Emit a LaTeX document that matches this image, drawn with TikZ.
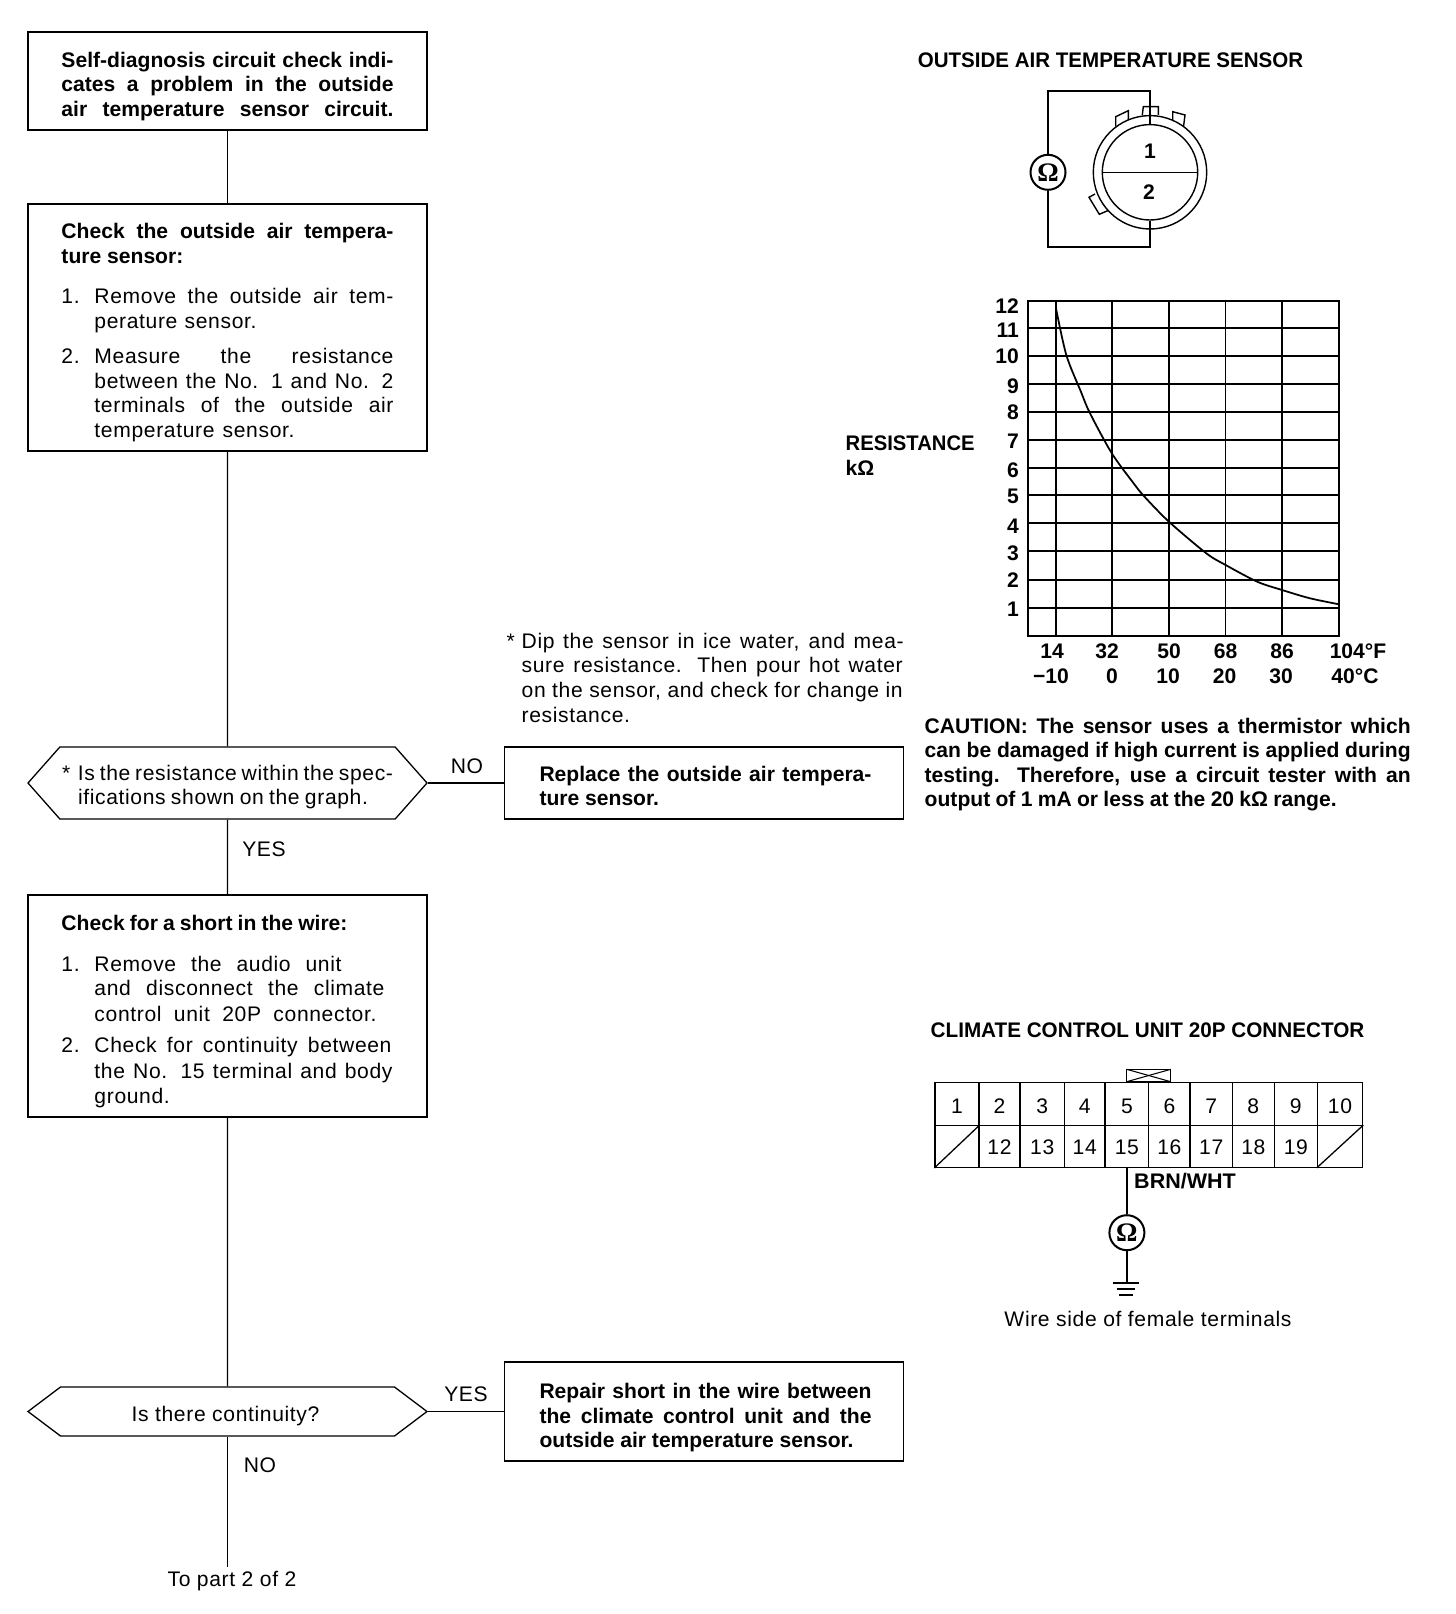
\documentclass[tikz,border=0pt]{standalone}
\usepackage{fontspec}
\setmainfont{Liberation Sans}[LetterSpace=3,BoldFeatures={LetterSpace=0}]
\newfontfamily\ohmfont{Liberation Serif}
\usepackage{tikz}
\usetikzlibrary{shapes.symbols}

\newcommand{\jl}[2][3.32]{\makebox[#1cm][s]{#2}}
\newcommand{\itm}[3]{\makebox[0.33cm][l]{#1}\jl[#2]{#3}}
\newcommand{\cnt}[2]{\hspace*{0.33cm}\jl[#1]{#2}}
\newcommand{\up}[1]{\rule{0pt}{#1cm}}

\tikzset{
    txt/.style={font=\fontsize{6}{6.97}\selectfont, inner sep=0, align=left},
    bold/.style={txt, font=\fontsize{6}{6.97}\selectfont\bfseries},
    flowbox/.style={txt, draw, line width=0.37pt, minimum width=3.99cm},
    boldbox/.style={flowbox, font=\fontsize{6}{6.97}\selectfont\bfseries},
    query/.style={txt, draw, line width=0.37pt, shape=signal, signal to=west and east,
        minimum width=3.99cm},
    flow/.style={line width=0.37pt},
    wire/.style={line width=0.57pt},
    meter/.style={draw, circle, line width=0.57pt, inner sep=0, minimum size=0.35cm,
        font=\fontsize{7.6}{7.6}\ohmfont\bfseries},
    cell/.style={txt, draw, line width=0.35pt, align=center}
}

\begin{document}
\begin{tikzpicture}[y=-1cm]
    \useasboundingbox (0, 0) rectangle (14.56, 16.14);

    % flow chart
    \node[boldbox, minimum height=0.98cm] at (2.275, 0.81) (S) {
        \up{0.255}\jl{Self-diagnosis circuit check indi-}\\
        \jl{cates a problem in the outside}\\
        \jl{air temperature sensor circuit.}};
    \node[flowbox, minimum height=2.47cm] at (2.275, 3.275) (C) {
        \up{0.255}\jl{\textbf{Check the outside air tempera-}}\\
        \textbf{ture sensor:}\\[0.16cm]
        \itm{1.}{2.99}{Remove the outside air tem-}\\
        \cnt{1.62}{perature sensor.}\\[0.11cm]
        \itm{2.}{2.99}{Measure the resistance}\\
        \cnt{2.99}{between the No. 1 and No. 2}\\
        \cnt{2.99}{terminals of the outside air}\\
        \cnt{2.0}{temperature sensor.}};
    \node[query, signal pointer angle=97, minimum height=0.72cm] at (2.275, 7.83) (Q) {
        \up{0.235}\makebox[0.16cm][l]{*}\jl[3.15]{Is the resistance within the spec-}\\
        \hspace*{0.16cm}\jl[2.9]{ifications shown on the graph.}};
    \node[boldbox, minimum height=0.72cm] at (7.04, 7.83) (R) {
        \up{0.215}\hspace*{0.03cm}\jl{Replace the outside air tempera-}\\
        \hspace*{0.03cm}\makebox[3.32cm][l]{ture sensor.}};
    \node[flowbox, minimum height=2.22cm] at (2.275, 10.06) (W) {
        \up{0.265}\makebox[3.32cm][l]{\jl[2.86]{\textbf{Check for a short in the wire:}}}\\[0.16cm]
        \itm{1.}{2.47}{Remove the audio unit}\\
        \cnt{2.9}{and disconnect the climate}\\[0.01cm]
        \cnt{2.82}{control unit 20P connector.}\\[0.07cm]
        \itm{2.}{2.97}{Check for continuity between}\\[0.01cm]
        \cnt{2.98}{the No. 15 terminal and body}\\[0.01cm]
        \cnt{0.8}{ground.}};
    \node[query, signal pointer angle=74, minimum height=0.49cm] at (2.275, 14.115) (T) {
        \up{0.235}Is there continuity?\hspace*{0.04cm}};
    \node[boldbox, minimum height=0.99cm] at (7.04, 14.115) (P) {
        \up{0.275}\hspace*{0.03cm}\jl{Repair short in the wire between}\\
        \hspace*{0.03cm}\jl{the climate control unit and the}\\
        \hspace*{0.03cm}\makebox[3.32cm][l]{outside air temperature sensor.}};
    \coordinate (End) at (2.275, 15.67);
    \node[txt] at (2.32, 15.81) (Part) {To part 2 of 2};

    \draw[flow] (S) -- (C);
    \draw[flow] (C) -- (Q);
    \draw[flow] (Q.east) -- (R);
    \draw[flow] (Q) -- (W);
    \draw[flow] (W) -- (T);
    \draw[flow] (T.east) -- (P);
    \draw[flow] (T.south) -- (End);

    \node[txt] at (4.67, 7.66) (QNo) {NO};
    \node[txt] at (2.64, 8.49) (QYes) {YES};
    \node[txt] at (4.66, 13.94) (TYes) {YES};
    \node[txt] at (2.6, 14.65) (TNo) {NO};

    \node[txt, anchor=west] at (5.06, 6.78) (Note) {
        \makebox[0.15cm][l]{*}\jl[3.82]{Dip the sensor in ice water, and mea-}\\
        \hspace*{0.15cm}\jl[3.81]{sure resistance. Then pour hot water}\\
        \hspace*{0.15cm}\jl[3.81]{on the sensor, and check for change in}\\[0.01cm]
        \hspace*{0.15cm}\jl[1.05]{resistance.}};

    % sensor
    \node[bold] at (11.105, 0.607) (SensorTitle) {\scalebox{0.974}[1]{OUTSIDE AIR TEMPERATURE SENSOR}};
    \draw[line width=0.4pt] (11.157, 1.267) -- (11.157, 1.167) -- (11.283, 1.107) -- (11.283, 1.2);
    \draw[line width=0.4pt] (11.423, 1.15) -- (11.433, 1.067) -- (11.583, 1.067) -- (11.583, 1.15);
    \draw[line width=0.4pt] (11.727, 1.2) -- (11.727, 1.117) -- (11.85, 1.15) -- (11.833, 1.283);
    \draw[line width=0.4pt] (10.95, 1.94) -- (10.89, 1.973) -- (10.993, 2.143) -- (11.093, 2.1);
    \node[draw, circle, line width=0.4pt, fill=white, inner sep=0, minimum size=1.134cm] at (11.5, 1.723) (RO) {};
    \node[draw, circle, line width=0.4pt, inner sep=0, minimum size=0.954cm] at (11.5, 1.723) (RI) {};
    \draw[flow] (RI.west) -- (RI.east);
    \node[bold] at (11.5, 1.517) (N1) {1};
    \node[bold] at (11.49, 1.917) (N2) {2};
    \node[meter] at (10.48, 1.723) (OA) {Ω};
    \draw[wire] (OA.north) -- (10.48, 0.91) -| (RI.north);
    \draw[wire] (OA.south) -- (10.48, 2.467) -| (RI.south);

    % graph
    \draw[line width=0.33pt] (10.28, 3.007) rectangle (13.39, 6.36);
    \foreach \x in {10.56, 11.118, 11.689, 12.256, 12.82} {
        \draw[line width=0.48pt] (\x, 3.007) -- (\x, 6.36);
    }
    \foreach \y/\ly/\val in {3.007/3.057/12, 3.283/3.307/11, 3.56/3.56/10, 3.84/3.86/9, 4.12/4.12/8,
            4.4/4.417/7, 4.677/4.7/6, 4.953/4.96/5, 5.233/5.267/4, 5.51/5.533/3, 5.8/5.8/2, 6.077/6.09/1} {
        \draw[line width=0.48pt] (10.28, \y) -- (13.39, \y);
        \node[bold, anchor=east] at (10.195, \ly) (Y\val) {\val};
    }
    \draw[line width=0.5pt] plot[smooth, tension=0.5] coordinates {
        (10.56, 3.083) (10.663, 3.55) (10.809, 3.917) (10.9, 4.133) (11.118, 4.533)
        (11.336, 4.833) (11.445, 4.967) (11.689, 5.217) (12.063, 5.533) (12.256, 5.65)
        (12.572, 5.817) (12.82, 5.9) (13.1, 5.983) (13.39, 6.043)};
    \foreach \x/\deg in {10.52/14, 11.07/32, 11.69/50, 12.255/68, 12.82/86, 13.58/104°F} {
        \node[bold] at (\x, 6.51) {\deg};
    }
    \foreach \x/\deg in {10.51/−10, 11.12/0, 11.68/10, 12.245/20, 12.81/30, 13.55/40°C} {
        \node[bold] at (\x, 6.76) {\deg};
    }
    \node[bold, anchor=west] at (8.45, 4.43) (ResLabel) {\scalebox{0.96}[1]{RESISTANCE}};
    \node[bold, anchor=west] at (8.45, 4.68) (ResUnit) {kΩ};

    \node[bold, anchor=west] at (9.24, 7.645) (Caution) {
        \jl[4.86]{CAUTION: The sensor uses a thermistor which}\\
        \jl[4.86]{can be damaged if high current is applied during}\\
        \jl[4.86]{testing. Therefore, use a circuit tester with an}\\
        \jl[4.12]{output of 1 mA or less at the 20 kΩ range.}};

    % connector
    \node[bold] at (11.475, 10.3) (ConnTitle) {\scalebox{0.981}[1]{CLIMATE CONTROL UNIT 20P CONNECTOR}};
    \draw[line width=0.4pt] (11.267, 10.693) rectangle (11.707, 10.817);
    \draw[line width=0.3pt] (11.267, 10.693) -- (11.707, 10.817);
    \draw[line width=0.3pt] (11.267, 10.817) -- (11.707, 10.693);
    \foreach \n/\xc/\cw in {1/9.57/0.44, 2/9.995/0.41, 3/10.422/0.443, 4/10.847/0.407, 5/11.269/0.437,
            6/11.694/0.413, 7/12.112/0.423, 8/12.533/0.42, 9/12.958/0.43, 10/13.4/0.454} {
        \node[cell, minimum width=\cw cm, minimum height=0.43cm] at (\xc, 11.042) (c\n) {\up{0.19}\n};
    }
    \foreach \n/\xc/\cw in {11/9.57/0.44, 12/9.995/0.41, 13/10.422/0.443, 14/10.847/0.407, 15/11.269/0.437,
            16/11.694/0.413, 17/12.112/0.423, 18/12.533/0.42, 19/12.958/0.43, 20/13.4/0.454} {
        \node[cell, minimum width=\cw cm, minimum height=0.416cm] at (\xc, 11.465) (c\n) {};
    }
    \foreach \n in {12, ..., 19} {
        \node[txt] at ([yshift=-0.01cm]c\n) (t\n) {\n};
    }
    \draw[flow] (c11.south west) -- (c11.north east);
    \draw[flow] (c20.south west) -- (c20.north east);
    \node[bold] at (11.85, 11.81) (Wire) {\scalebox{1.02}[1]{BRN/WHT}};
    \node[meter] at (11.269, 12.327) (OB) {Ω};
    \draw[flow] (c15.south) -- (OB.north);
    \coordinate (Gnd) at (11.269, 12.833);
    \draw[wire] (OB.south) -- (Gnd);
    \draw[wire] (11.127, 12.833) -- (11.39, 12.833);
    \draw[wire] (11.167, 12.893) -- (11.35, 12.893);
    \draw[wire] (11.19, 12.953) -- (11.327, 12.953);
    \node[txt] at (11.48, 13.19) (WireSide) {Wire side of female terminals};
\end{tikzpicture}
\end{document}
